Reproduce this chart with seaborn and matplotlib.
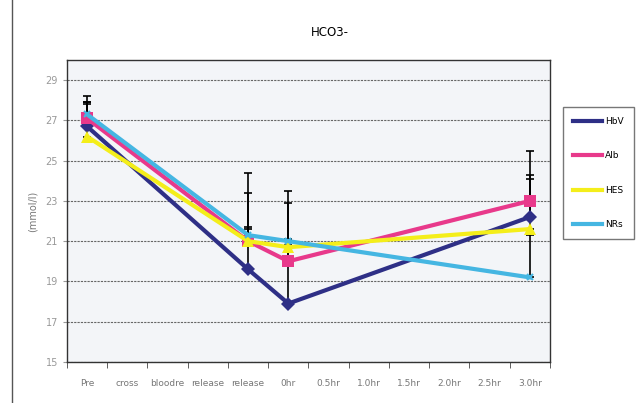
import matplotlib
matplotlib.use("Agg")
from matplotlib import pyplot as plt
import seaborn as sns
import pandas as pd
import numpy as np

# categories on the x axis
categories = ["Pre", "cross", "bloodre", "release", "release", "0hr",
              "0.5hr", "1.0hr", "1.5hr", "2.0hr", "2.5hr", "3.0hr"]
# only these time points have measurements
measured = ["Pre", "release", "0hr", "3.0hr"]
measured_pos = [0, 4, 5, 11]

hbv = [26.7, 19.6, 17.9, 22.2]
alb = [27.1, 21.0, 20.0, 23.0]
hes = [26.2, 21.0, 20.7, 21.6]
nrs = [27.3, 21.3, 21.0, 19.2]

# upper error bars (only the plus side is shown)
hbv_err = [1.5, 4.8, 5.6, 3.3]
alb_err = [0.8, 2.4, 2.9, 1.3]
hes_err = [1.7, 0.6, 0.1, 2.5]
nrs_err = [0.5, 0.4, 0.1, 2.1]

series = ["HbV", "Alb", "HES", "NRs"]
colors = ["#2e2f86", "#e8398b", "#f4ee1a", "#45b6e2"]
markers = ["D", "s", "^", "x"]
msizes = [7, 9, 9, 5]

df = pd.DataFrame({
    "pos": measured_pos * 4,
    "value": hbv + alb + hes + nrs,
    "group": np.repeat(series, 4),
})

fig = plt.figure(figsize=(6.38, 4.03), dpi=100)
ax = fig.add_axes([0.105, 0.102, 0.757, 0.749])
ax.set_facecolor("#f3f5f8")

# error bars behind the lines
for vals, errs in zip([hbv, alb, hes, nrs], [hbv_err, alb_err, hes_err, nrs_err]):
    ax.errorbar(measured_pos, vals, yerr=[np.zeros(4), errs], fmt="none",
                ecolor="black", elinewidth=1.2, capsize=3, capthick=1.2, zorder=2)

for name, c, m, ms in zip(series, colors, markers, msizes):
    sub = df[df["group"] == name]
    sns.lineplot(data=sub, x="pos", y="value", color=c, marker=m,
                 markersize=ms, markeredgewidth=1.5 if m == "x" else 0,
                 markeredgecolor=c, linewidth=3, ax=ax, zorder=3)

ax.set_xlim(-0.5, 11.5)
ax.set_ylim(15, 30)
ax.set_yticks(np.arange(15, 30, 2))
ax.set_xticks(range(12))
ax.set_xticklabels(categories, fontsize=6.5, color="#777777")
ax.set_xticks(np.arange(-0.5, 12, 1), minor=True)
ax.tick_params(axis="x", which="major", length=0, pad=12)
ax.tick_params(axis="x", which="minor", length=4, color="#444444")
ax.tick_params(axis="y", labelsize=7, colors="#999999", length=3)
ax.yaxis.grid(True, color="#666666", linestyle=(0, (2, 1)), linewidth=0.8)
ax.set_axisbelow(True)
for s in ax.spines.values():
    s.set_color("#333333")
    s.set_linewidth(1)
ax.set_xlabel("")
ax.set_ylabel("(mmol/l)", fontsize=7, color="#777777", labelpad=6)

fig.text(0.517, 0.92, "HCO3-", ha="center", va="center", fontsize=8.5)

# scanned page edge on the left
fig.add_artist(plt.Line2D([0.019, 0.019], [0.0, 1.0], color="#555555", linewidth=1))

# legend box on the right
handles = [plt.Line2D([], [], color=c, linewidth=3) for c in colors]
fig.legend(handles, series, loc="upper left", bbox_to_anchor=(0.882, 0.735),
           borderaxespad=0, fontsize=6.5, frameon=True, edgecolor="#555555",
           fancybox=False, handlelength=3.2, labelspacing=2.8, borderpad=1.15,
           handletextpad=0.3)

fig.savefig("out.png", dpi=100)
